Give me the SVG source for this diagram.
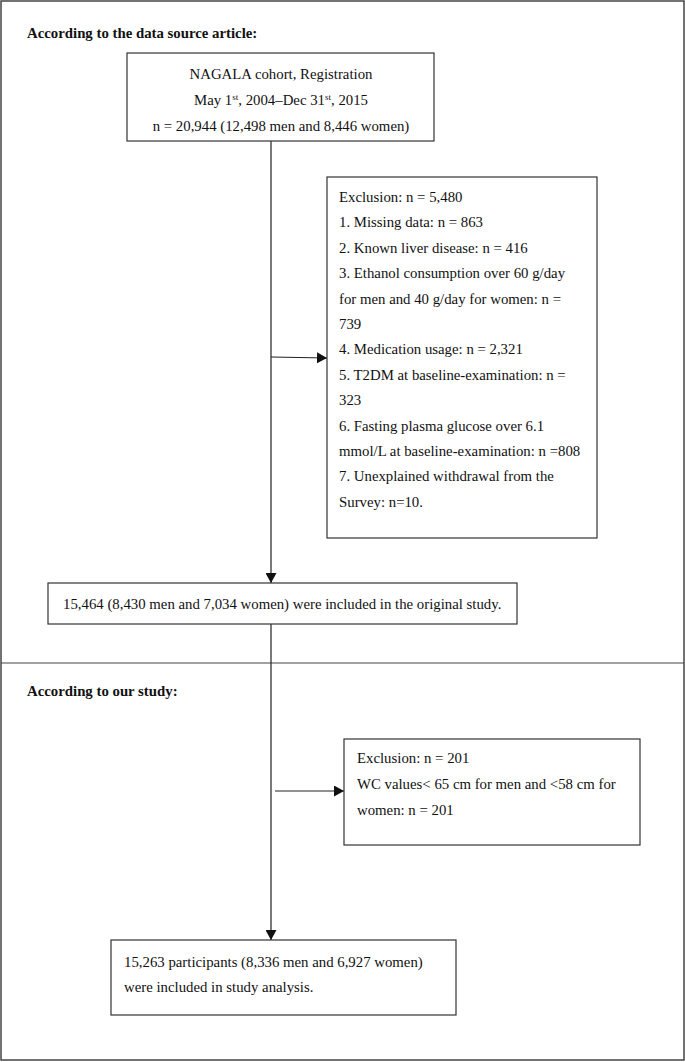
<svg xmlns="http://www.w3.org/2000/svg" width="685" height="1062" viewBox="0 0 685 1062">
<style>
text{font-family:"Liberation Serif",serif;font-size:14.8px;fill:#111}
.h{font-weight:bold}
.box{fill:#fff;stroke:#333;stroke-width:1.2}
.ln{stroke:#222;stroke-width:1.2;fill:none}
.sup{font-size:9px}
</style>
<defs>
<marker id="ah" markerWidth="10" markerHeight="11" refX="10" refY="5.5" orient="auto" markerUnits="userSpaceOnUse">
<path d="M0,0 L10,5.5 L0,11 Z" fill="#111"/>
</marker>
</defs>
<rect x="0" y="0" width="685" height="1062" fill="#fff"/>
<g id="frame">
<rect x="1" y="1" width="683" height="1059" fill="none" stroke="#444" stroke-width="1.5"/>
<line x1="1" y1="663" x2="684" y2="663" stroke="#444" stroke-width="1.2"/>
</g>
<g id="header1"><text class="h" x="27" y="38">According to the data source article:</text></g>
<g id="header2"><text class="h" x="27" y="696">According to our study:</text></g>
<g id="connectors">
<line class="ln" x1="271" y1="141" x2="271" y2="583" marker-end="url(#ah)"/>
<line class="ln" x1="271" y1="357" x2="327" y2="358" marker-end="url(#ah)"/>
<line class="ln" x1="271" y1="624" x2="271" y2="940" marker-end="url(#ah)"/>
<line class="ln" x1="275" y1="791" x2="344" y2="791" marker-end="url(#ah)"/>
</g>
<g id="n1">
<rect class="box" x="127" y="53" width="307" height="88"/>
<text x="281" y="79" text-anchor="middle">NAGALA cohort, Registration</text>
<text x="281" y="105" text-anchor="middle">May 1<tspan class="sup" dy="-5">st</tspan><tspan dy="5">, 2004–Dec 31</tspan><tspan class="sup" dy="-5">st</tspan><tspan dy="5">, 2015</tspan></text>
<text x="281" y="131" text-anchor="middle">n = 20,944 (12,498 men and 8,446 women)</text>
</g>
<g id="n2">
<rect class="box" x="327" y="177" width="270" height="361"/>
<text x="339" y="202">Exclusion: n = 5,480</text>
<text x="339" y="227.4">1. Missing data: n = 863</text>
<text x="339" y="252.8">2. Known liver disease: n = 416</text>
<text x="339" y="278.2">3. Ethanol consumption over 60 g/day</text>
<text x="339" y="303.6">for men and 40 g/day for women: n =</text>
<text x="339" y="329">739</text>
<text x="339" y="354.4">4. Medication usage: n = 2,321</text>
<text x="339" y="379.8">5. T2DM at baseline-examination: n =</text>
<text x="339" y="405.2">323</text>
<text x="339" y="430.6">6. Fasting plasma glucose over 6.1</text>
<text x="339" y="456">mmol/L at baseline-examination: n =808</text>
<text x="339" y="481.4">7. Unexplained withdrawal from the</text>
<text x="339" y="506.8">Survey: n=10.</text>
</g>
<g id="n3">
<rect class="box" x="48" y="583" width="469" height="41"/>
<text x="63" y="609">15,464 (8,430 men and 7,034 women) were included in the original study.</text>
</g>
<g id="n4">
<rect class="box" x="344" y="739" width="296" height="106"/>
<text x="357" y="763">Exclusion: n = 201</text>
<text x="357" y="789">WC values&lt; 65 cm for men and &lt;58 cm for</text>
<text x="357" y="815">women: n = 201</text>
</g>
<g id="n5">
<rect class="box" x="111" y="940" width="345" height="75"/>
<text x="124" y="967">15,263 participants (8,336 men and 6,927 women)</text>
<text x="124" y="992">were included in study analysis.</text>
</g>
</svg>
